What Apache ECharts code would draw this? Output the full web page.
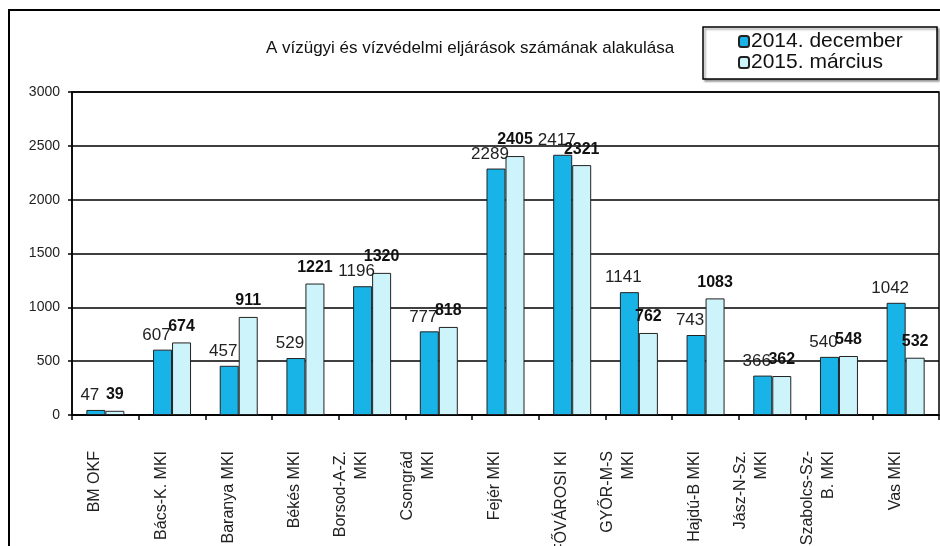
<!DOCTYPE html>
<html>
<head>
<meta charset="utf-8">
<script src="https://cdn.jsdelivr.net/npm/echarts@6/dist/echarts.min.js"></script>
<style>
html,body{margin:0;padding:0;background:#fff;}
#chart{width:940px;height:546px;}
</style>
</head>
<body>
<div id="chart"></div>
<script>
var categories = ["BM OKF", "Bács-K. MKI", "Baranya MKI", "Békés MKI", "Borsod-A-Z.\nMKI", "Csongrád\nMKI", "Fejér MKI", "FŐVÁROSI KI", "GYŐR-M-S\nMKI", "Hajdú-B MKI", "Jász-N-Sz.\nMKI", "Szabolcs-Sz-\nB. MKI", "Vas MKI"];
var dec2014 = [47, 607, 457, 529, 1196, 777, 2289, 2417, 1141, 743, 366, 540, 1042];
var mar2015 = [39, 674, 911, 1221, 1320, 818, 2405, 2321, 762, 1083, 362, 548, 532];
var seriesNames = ["2014. december", "2015. március"];
var titleText = "A vízügyi és vízvédelmi eljárások számának alakulása";

var chart = echarts.init(document.getElementById('chart'));
chart.setOption({
  backgroundColor: '#fff',
  animation: false,
  textStyle: {fontFamily: 'Arial, "Liberation Sans", sans-serif'},
  title: {
    text: titleText,
    left: 'center',
    top: 35,
    textStyle: {fontSize: 17, fontWeight: 'normal', color: '#111'}
  },
  graphic: [
    {type: 'rect', shape: {x: 9, y: 10, width: 1000, height: 700}, style: {fill: 'none', stroke: '#000', lineWidth: 2}, z: 100},
    {type: 'rect', shape: {x: 703, y: 27, width: 234, height: 52}, style: {fill: '#fff', stroke: '#000', lineWidth: 1.5, shadowBlur: 2, shadowOffsetX: 2, shadowOffsetY: 2, shadowColor: 'rgba(0,0,0,0.35)'}, z: 1}
  ],
  legend: {
    orient: 'vertical',
    left: 738,
    top: 31,
    itemGap: 0,
    itemWidth: 10,
    itemHeight: 11,
    icon: 'roundRect',
    padding: 0,
    textStyle: {fontSize: 21, color: '#111', padding: [0, 0, 0, -3]},
    data: seriesNames,
    z: 10
  },
  grid: {
    left: 72, right: 1, top: 92, bottom: 131,
    outerBoundsMode: 'none', containLabel: false,
    show: true, borderColor: '#000', borderWidth: 1.5, backgroundColor: 'transparent'
  },
  xAxis: {
    type: 'category',
    data: categories,
    axisLine: {lineStyle: {color: '#000', width: 1.5}},
    axisTick: {show: true, length: 5, lineStyle: {color: '#000', width: 1.5}},
    axisLabel: {rotate: 90, margin: 36, fontSize: 16, color: '#222', lineHeight: 21, interval: 0, verticalAlign: 'bottom', hideOverlap: false}
  },
  yAxis: {
    type: 'value',
    min: 0, max: 3000, interval: 500,
    axisLine: {show: true, lineStyle: {color: '#000', width: 1.5}},
    axisTick: {show: true, length: 4, lineStyle: {color: '#000', width: 1.5}},
    axisLabel: {fontSize: 14, color: '#222', margin: 12, formatter: function (v) { return String(v); }},
    splitLine: {lineStyle: {color: '#000', width: 1.5}}
  },
  series: [
    {
      name: seriesNames[0], type: 'bar', data: dec2014, barWidth: 19, barGap: '0%',
      itemStyle: {color: '#18b4e8', borderColor: '#222', borderWidth: 1},
      label: {show: true, position: 'top', distance: 6, offset: [-6, 0], fontSize: 17, color: '#222'}
    },
    {
      name: seriesNames[1], type: 'bar', data: mar2015, barWidth: 19, barGap: '0%',
      itemStyle: {color: '#cdf3fb', borderColor: '#222', borderWidth: 1},
      label: {show: true, position: 'top', distance: 8, fontSize: 16, fontWeight: 'bold', color: '#111'}
    }
  ]
});
</script>
</body>
</html>
